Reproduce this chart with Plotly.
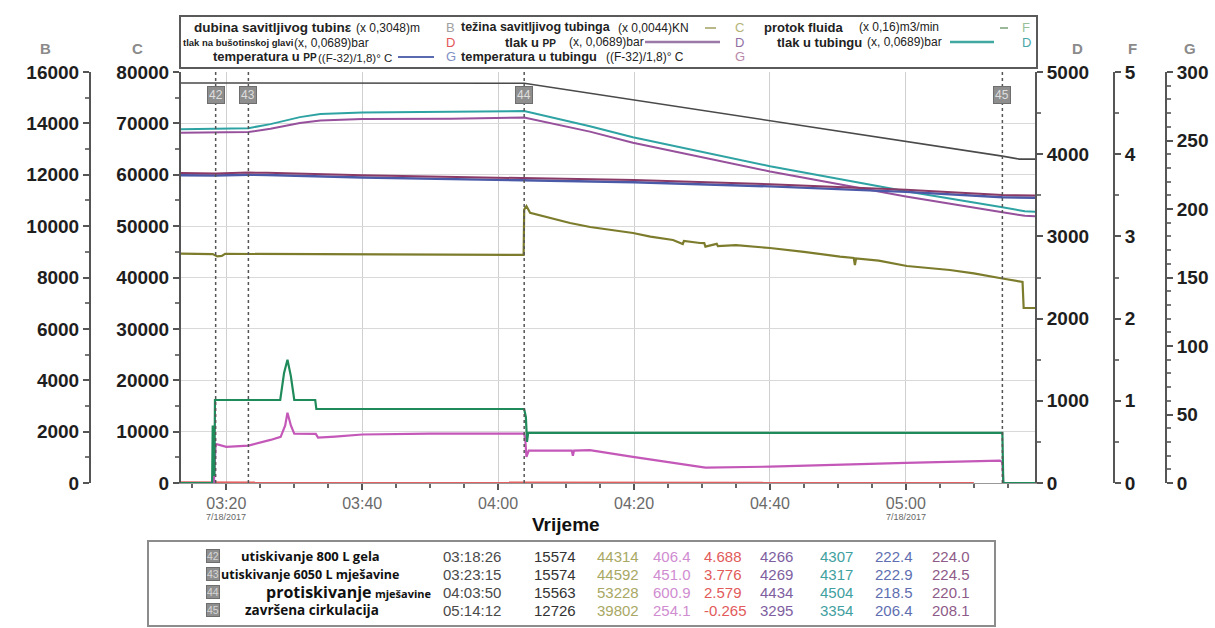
import plotly.graph_objects as go

DAY = "2017-07-18 "

# ---------------- data ----------------
DEPTH_T = ["03:13:20", "04:03:50", "05:14:12", "05:16:40", "05:19:00"]
DEPTH_V = [15574, 15563, 12726, 12610, 12610]

WEIGHT_T = ["03:13:20", "03:18:00", "03:18:40", "03:19:20", "03:19:50", "03:23:15", "04:03:45",
            "04:03:50", "04:04:10", "04:04:42", "04:07:30", "04:10:35", "04:13:32", "04:16:30",
            "04:19:51", "04:22:24", "04:25:44", "04:27:10", "04:27:20", "04:29:42", "04:30:20",
            "04:30:30", "04:32:10", "04:32:20", "04:35:00", "04:40:00", "04:45:00", "04:50:18",
            "04:52:20", "04:52:30", "04:52:40", "04:56:00", "05:00:09", "05:06:28", "05:10:00",
            "05:14:12", "05:17:10", "05:17:20", "05:19:00"]
WEIGHT_V = [44650, 44550, 44100, 44200, 44600, 44592, 44400,
            53228, 53900, 52600, 51700, 50600, 49830, 49300,
            48660, 47950, 47300, 46500, 47100, 46720, 46700,
            46000, 46550, 46100, 46300, 45740, 45000, 44050,
            43800, 42400, 43700, 43300, 42240, 41460, 40800,
            39802, 39150, 34060, 34060]

PRESS_T = ["03:13:20", "03:18:26", "03:23:15", "03:26:30", "03:30:50", "03:33:50", "03:40:00",
           "03:53:00", "04:03:50", "04:13:30", "04:19:50", "04:40:00", "05:00:00", "05:14:12",
           "05:17:30", "05:19:00"]
TUBING_P = [4305, 4307, 4317, 4366, 4451, 4488, 4508, 4515, 4525, 4341, 4207, 3854, 3549, 3354, 3305, 3300]
PP_P = [4262, 4266, 4269, 4310, 4380, 4410, 4427, 4432, 4445, 4275, 4140, 3790, 3485, 3295, 3250, 3245]

WELLHEAD_T = ["03:18:10", "03:18:26", "03:20:00", "03:23:15", "03:26:30", "03:28:00", "03:28:40",
              "03:29:00", "03:29:30", "03:30:00", "03:33:10", "03:33:30", "03:36:00", "03:40:00",
              "03:50:00", "04:03:50", "04:04:00", "04:04:10", "04:04:30", "04:08:00", "04:10:50",
              "04:11:00", "04:11:10", "04:13:30", "04:19:50", "04:30:30", "04:40:00", "05:00:00",
              "05:13:50", "05:14:12", "05:14:20"]
WELLHEAD_P = [0, 476, 440, 455, 524, 561, 700,
              854, 700, 600, 598, 552, 565, 590,
              600, 600.9, 520, 317, 394, 395, 394,
              330, 394, 400, 317, 187, 199, 244,
              272, 254.1, 0]

FLOW_T = ["03:13:20", "03:17:55", "03:18:00", "03:18:08", "03:18:15", "03:18:20", "03:27:56",
          "03:28:30", "03:29:00", "03:29:30", "03:30:00", "03:33:05", "03:33:15", "04:03:50",
          "04:04:05", "04:04:15", "04:04:25", "05:14:12", "05:14:20", "05:19:00"]
FLOW_V = [0, 0, 0.7, 0.1, 0.1, 1.01, 1.01,
          1.34, 1.50, 1.30, 1.01, 1.01, 0.90, 0.90,
          0.80, 0.50, 0.61, 0.61, 0, 0]

RED_T = ["03:13:20", "03:18:26", "03:23:15", "04:03:50", "05:10:00"]
RED_V = [5.0, 4.688, 3.776, 2.579, -0.265]

TEMP_T = ["03:13:20", "03:18:26", "03:23:15", "03:26:00", "03:40:00", "04:03:50", "04:20:00",
          "04:40:00", "05:00:00", "05:14:12", "05:19:00"]
TEMP_PP = [224.6, 224.4, 225.0, 224.8, 223.0, 221.0, 219.5, 216.5, 212.5, 208.6, 208.2]
TEMP_TUB = [226.2, 226.0, 226.6, 226.4, 224.6, 222.6, 221.1, 218.1, 214.1, 210.2, 209.8]

EVENT_IDS = ["42", "43", "44", "45"]
EVENT_TIMES = ["03:18:26", "03:23:15", "04:03:50", "05:14:12"]
EVENT_NAMES = ["utiskivanje 800 L gela",
               "utiskivanje 6050 L mješavine",
               "<span style='font-size:16px'>protiskivanje</span> <span style='font-size:11px'>mješavine</span>",
               "završena cirkulacija"]
EVENT_NAME_SIZE = [13, 12.5, 13, 13.5]
EVENT_NAME_X = [239, 219, 264, 243]
TAB_B = ["15574", "15574", "15563", "12726"]
TAB_C = ["44314", "44592", "53228", "39802"]
TAB_WH = ["406.4", "451.0", "600.9", "254.1"]
TAB_RED = ["4.688", "3.776", "2.579", "-0.265"]
TAB_PP = ["4266", "4269", "4434", "3295"]
TAB_TUB = ["4307", "4317", "4504", "3354"]
TAB_TPP = ["222.4", "222.9", "218.5", "206.4"]
TAB_TTUB = ["224.0", "224.5", "220.1", "208.1"]

X_TICKS = ["03:20", "03:40", "04:00", "04:20", "04:40", "05:00"]

# ---------------- colours ----------------
C_DEPTH = "#4a4a4a"
C_WEIGHT = "#7c7c2c"
C_TUB = "#2fa3a3"
C_PP = "#96509c"
C_WH = "#c458b8"
C_RED = "#e26060"
C_FLOW = "#1f8a5a"
C_TPP = "#4a5aa8"
C_TTUB = "#8a3a66"

W, H = 1215, 628
TOP, BOT = 72, 483
FONT = "Liberation Sans"
TFONT = "Open Sans"


def px(x):
    return x / W


def py(y):
    return (BOT - y) / (BOT - TOP)


def ts(lst):
    return [DAY + t for t in lst]


fig = go.Figure()


def line(tlist, v, color, width, axis):
    fig.add_trace(go.Scatter(x=ts(tlist), y=v, mode="lines", yaxis=axis,
                             line=dict(color=color, width=width),
                             showlegend=False, hoverinfo="skip"))


line(RED_T, RED_V, C_RED, 2.5, "y3")
line(FLOW_T, FLOW_V, C_FLOW, 2.2, "y4")
line(WELLHEAD_T, WELLHEAD_P, C_WH, 2.2, "y3")
line(WEIGHT_T, WEIGHT_V, C_WEIGHT, 2.2, "y")
line(TEMP_T, TEMP_PP, C_TPP, 2.4, "y5")
line(TEMP_T, TEMP_TUB, C_TTUB, 2.0, "y5")
line(PRESS_T, PP_P, C_PP, 2.0, "y3")
line(PRESS_T, TUBING_P, C_TUB, 2.0, "y3")
line(DEPTH_T, DEPTH_V, C_DEPTH, 1.6, "y2")

ax_common = dict(showline=True, linecolor="#555555", linewidth=2, ticks="outside",
                 ticklen=6, tickwidth=2, tickcolor="#555555", zeroline=False,
                 tickformat="d",
                 tickfont=dict(family=FONT, size=19, color="#1e1e1e", weight="bold"))

fig.update_layout(
    width=W, height=H, autosize=False,
    margin=dict(l=0, r=0, t=TOP, b=H - BOT),
    plot_bgcolor="white", paper_bgcolor="white",
    showlegend=False,
    xaxis=dict(type="date", domain=[px(181), px(1035)],
               range=[DAY + "03:13:20", DAY + "05:19:00"],
               tickvals=ts(X_TICKS), ticktext=X_TICKS,
               ticks="outside", ticklen=6, tickwidth=1.5, tickcolor="#555555",
               showgrid=True, gridcolor="#cfcfcf", gridwidth=1,
               showline=True, linecolor="#9a9a9a", linewidth=1,
               minor=dict(tickmode="linear", tick0=DAY + "03:00:00", dtick=300000,
                          ticklen=4, tickwidth=1.5, tickcolor="#666666", showgrid=False),
               tickfont=dict(family=FONT, size=16, color="#6a6a6a")),
    yaxis=dict(range=[0, 80000], dtick=10000, side="left", anchor="x",
               showgrid=True, gridcolor="#d9d9d9",
               minor=dict(dtick=5000, ticklen=4, tickwidth=1.5, tickcolor="#777777"),
               **ax_common),
    yaxis2=dict(range=[0, 16000], dtick=2000, side="left", anchor="free",
                position=px(90), overlaying="y", showgrid=False,
                minor=dict(dtick=1000, ticklen=4, tickwidth=1.5, tickcolor="#777777"),
                **ax_common),
    yaxis3=dict(range=[0, 5000], dtick=1000, side="right", anchor="x",
                overlaying="y", showgrid=False,
                minor=dict(dtick=500, ticklen=4, tickwidth=1.5, tickcolor="#777777"),
                **ax_common),
    yaxis4=dict(range=[0, 5], dtick=1, side="right", anchor="free",
                position=px(1114), overlaying="y", showgrid=False,
                minor=dict(dtick=0.5, ticklen=4, tickwidth=1.5, tickcolor="#777777"),
                **ax_common),
    yaxis5=dict(range=[0, 300], dtick=50, side="right", anchor="free",
                position=px(1166), overlaying="y", showgrid=False,
                minor=dict(dtick=10, ticklen=4, tickwidth=1.5, tickcolor="#777777"),
                **ax_common),
)

shapes = []
ann = []

# event lines + boxes
for eid, et in zip(EVENT_IDS, EVENT_TIMES):
    shapes.append(dict(type="line", xref="x", yref="paper", x0=DAY + et, x1=DAY + et,
                       y0=0, y1=1, line=dict(color="#555555", width=1.5, dash="dot")))
    ann.append(dict(x=DAY + et, y=py(95), xref="x", yref="paper", text=eid, showarrow=False,
                    yanchor="middle", xanchor="center",
                    font=dict(family=FONT, size=12, color="#dedede"),
                    bgcolor="#8e8e8e", bordercolor="#6e6e6e", borderwidth=1, borderpad=1))

# axis letters
for letter, xx in [("B", 45), ("C", 137), ("D", 1077), ("F", 1132), ("G", 1190)]:
    ann.append(dict(x=px(xx), y=py(48), xref="paper", yref="paper", text=letter, showarrow=False,
                    yanchor="middle", xanchor="center",
                    font=dict(family=FONT, size=15, color="#8a8a8a", weight="bold")))

# x-axis extras
for tt in ["03:20", "05:00"]:
    ann.append(dict(x=DAY + tt, y=py(517), xref="x", yref="paper", text="7/18/2017", showarrow=False,
                    yanchor="middle", xanchor="center",
                    font=dict(family=FONT, size=9, color="#666666")))
ann.append(dict(x=px(566), y=py(524), xref="paper", yref="paper", text="Vrijeme", showarrow=False,
                yanchor="middle", xanchor="center",
                font=dict(family=FONT, size=19, color="#111111", weight="bold")))

# ---------------- top legend box ----------------
shapes.append(dict(type="rect", xref="paper", yref="paper", x0=px(180), x1=px(1037),
                   y0=py(68), y1=py(16), line=dict(color="#5a5a5a", width=2), fillcolor="white"))


def txt(x, y, s, size=12, color="#222222", bold=False, fam=FONT):
    ann.append(dict(x=px(x), y=py(y), xref="paper", yref="paper", text=s, showarrow=False,
                    xanchor="left", yanchor="middle",
                    font=dict(family=fam, size=size, color=color, weight="bold" if bold else "normal")))


def hline(x0, x1, y, color, w=2):
    shapes.append(dict(type="line", xref="paper", yref="paper", x0=px(x0), x1=px(x1),
                       y0=py(y), y1=py(y), line=dict(color=color, width=w)))


R1, R2, R3 = 27, 42, 57
# row 1
txt(192, R1, "dubina savitljivog tubinε", 13.5, bold=True)
txt(354, R1 + 1, "(x 0,3048)m", 12)
txt(444, R1 + 1, "B", 13, "#a0a0a0")
txt(459, R1, "težina savitljivog tubinga", 12.5, bold=True)
txt(616, R1 + 1, "(x 0,0044)KN", 12)
hline(705, 716, R1 + 1, "#b8b888")
txt(733, R1 + 1, "C", 13, "#b4b478")
txt(762, R1, "protok fluida", 13, bold=True)
txt(857, R1, "(x 0,16)m3/min", 12)
hline(1000, 1008, R1 + 1, "#9ab89a")
txt(1020, R1 + 1, "F", 13, "#98c098")
# row 2
txt(181, R2, "tlak na bušotinskoj glavi", 9.5, bold=True)
txt(292, R2 + 1, "(x, 0,0689)bar", 12)
txt(444, R2, "D", 13, "#e25858")
txt(503, R2, "tlak u <span style='font-size:10px'>PP</span>", 13, bold=True)
txt(567, R2, "(x, 0,0689)bar", 12)
hline(645, 720, R2, "#9a78a8", 2.5)
txt(733, R2, "D", 13, "#9070a4")
txt(775, R2, "tlak u tubingu", 13, bold=True)
txt(865, R2, "(x, 0,0689)bar", 12)
hline(950, 994, R2, "#40a8a0", 2.5)
txt(1020, R2, "D", 13, "#4aa8a8")
# row 3
txt(211, R3, "temperatura u <span style='font-size:10px'>PP</span>", 13, bold=True)
txt(316, R3 + 1, "((F-32)/1,8)° C", 11.5)
hline(398, 434, R3, "#5a6ab0", 2)
txt(444, R3, "G", 13, "#8090c4")
txt(459, R3, "temperatura u tubingu", 12.8, bold=True)
txt(604, R3, "((F-32)/1,8)° C", 12)
txt(733, R3, "G", 13, "#b888a8")

# ---------------- bottom table ----------------
shapes.append(dict(type="rect", xref="paper", yref="paper", x0=px(148), x1=px(995),
                   y0=py(626), y1=py(541), line=dict(color="#8c8c8c", width=2), fillcolor="white"))
ROW_Y = [556, 574, 592, 610]
COLS = [(TAB_B, 532, "#333333"), (TAB_C, 595, "#a8a864"), (TAB_WH, 651, "#d08cd0"),
        (TAB_RED, 702, "#e25a5a"), (TAB_PP, 758, "#7e5ea0"), (TAB_TUB, 818, "#3fa0a0"),
        (TAB_TPP, 873, "#5e6eb0"), (TAB_TTUB, 930, "#8e5a88")]
for i, yy in enumerate(ROW_Y):
    ann.append(dict(x=px(213), y=py(yy), xref="paper", yref="paper", text=EVENT_IDS[i], showarrow=False,
                    yanchor="middle", xanchor="center",
                    font=dict(family=FONT, size=10.5, color="#d6d6d6"),
                    bgcolor="#8e8e8e", bordercolor="#6e6e6e", borderwidth=1, borderpad=0))
    txt(EVENT_NAME_X[i], yy, EVENT_NAMES[i], EVENT_NAME_SIZE[i], "#111111", bold=True, fam=TFONT)
    txt(441, yy, EVENT_TIMES[i], 15, "#4a4a4a")
    for vals, xx, col in COLS:
        txt(xx, yy, vals[i], 15, col)

fig.update_layout(shapes=shapes, annotations=ann)

fig.write_html("out.html", config={"displayModeBar": False},
               post_script="document.body.style.margin='0';document.body.style.overflow='hidden';")
